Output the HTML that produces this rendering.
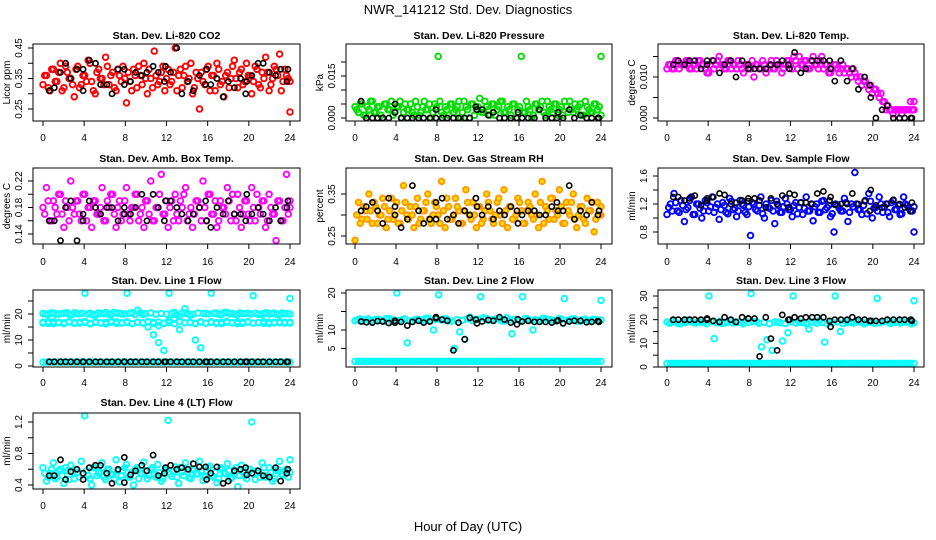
<!DOCTYPE html>
<html><head><meta charset="utf-8">
<style>
html,body{margin:0;padding:0;background:#fff;}
svg{display:block;font-family:"Liberation Sans",sans-serif;}
</style></head>
<body>
<svg id="chart" width="936" height="540" viewBox="0 0 936 540" xmlns="http://www.w3.org/2000/svg">
<text x="468" y="14" text-anchor="middle" font-size="13">NWR_141212 Std. Dev. Diagnostics</text>
<text x="468" y="531" text-anchor="middle" font-size="13">Hour of Day (UTC)</text>
</svg>
<script>
const xTicks = [0,4,8,12,16,20,24];
const blackHours = [0.6,1.1,1.7,2.2,2.7,3.3,3.9,3.9,4.5,5.1,5.6,6.2,6.7,7.3,7.9,7.9,8.5,9.0,9.6,10.1,10.7,11.2,11.8,11.9,12.4,13.0,13.5,14.1,14.6,15.2,15.8,15.9,16.3,16.9,17.5,18.0,18.6,19.2,19.7,19.8,20.3,20.9,21.4,22.0,22.6,23.1,23.7,23.8];

const co2Red = [0.33,0.36,0.31,0.38,0.34,0.40,0.32,0.37,0.35,0.29,0.39,0.33,0.36,0.41,0.34,0.30,0.38,0.35,0.42,0.33,0.37,0.31,0.36,0.39,0.27,0.34,0.38,0.32,0.36,0.40,0.30,0.35,0.44,0.33,0.37,0.31,0.38,0.34,0.45,0.36,0.32,0.39,0.35,0.30,0.37,0.25,0.34,0.38,0.31,0.36,0.40,0.33,0.29,0.37,0.35,0.41,0.32,0.38,0.34,0.36,0.30,0.39,0.33,0.37,0.42,0.31,0.35,0.38,0.43,0.34,0.36,0.24];
const co2Red2 = [0.36,0.32,0.38,0.34,0.37,0.31,0.39,0.35,0.33,0.38,0.32,0.36,0.34,0.40,0.31,0.37,0.35,0.33,0.39,0.36,0.32,0.38,0.34,0.35,0.37,0.31,0.36,0.39,0.33,0.35,0.38,0.32,0.36,0.34,0.39,0.35,0.33,0.37,0.31,0.38,0.36,0.34,0.40,0.32,0.35,0.37,0.33,0.39,0.36,0.31,0.38,0.34,0.36,0.32,0.39,0.35,0.37,0.33,0.40,0.36,0.34,0.38,0.32,0.35,0.37,0.33,0.39,0.36,0.31,0.38,0.35,0.34];
const co2Black = [0.31,0.32,0.37,0.40,0.35,0.38,0.31,0.38,0.41,0.40,0.33,0.33,0.30,0.38,0.33,0.38,0.34,0.37,0.36,0.37,0.39,0.37,0.34,0.39,0.37,0.45,0.30,0.34,0.31,0.36,0.33,0.38,0.33,0.35,0.29,0.34,0.32,0.35,0.30,0.34,0.36,0.40,0.40,0.37,0.36,0.38,0.34,0.38];
const pressGreen = [0.004,0.002,0.005,0.001,0.003,0.006,0.002,0.004,0.000,0.005,0.003,0.001,0.004,0.006,0.002,0.003,0.005,0.001,0.004,0.002,0.006,0.003,0.000,0.005,0.022,0.002,0.004,0.001,0.005,0.003,0.006,0.002,0.004,0.000,0.005,0.003,0.007,0.002,0.004,0.001,0.005,0.003,0.006,0.002,0.004,0.001,0.005,0.003,0.022,0.002,0.004,0.000,0.005,0.003,0.006,0.001,0.004,0.002,0.005,0.003,0.001,0.004,0.006,0.002,0.003,0.005,0.001,0.004,0.002,0.005,0.003,0.022];
const pressGreen2 = [0.003,0.005,0.001,0.004,0.006,0.002,0.004,0.001,0.005,0.003,0.006,0.002,0.004,0.000,0.005,0.003,0.002,0.006,0.001,0.004,0.003,0.005,0.002,0.004,0.006,0.001,0.003,0.005,0.002,0.004,0.000,0.006,0.003,0.005,0.001,0.004,0.002,0.006,0.003,0.005,0.001,0.004,0.006,0.002,0.003,0.005,0.000,0.004,0.002,0.006,0.003,0.001,0.005,0.004,0.002,0.006,0.003,0.005,0.001,0.004,0.006,0.002,0.003,0.005,0.004,0.001,0.006,0.003,0.002,0.005,0.004,0.001];
const pressBlack = [0.006,0.0,0.0,0.0,0.0,0.0,0.002,0.005,0.0,0.0,0.0,0.0,0.0,0.0,0.0,0.003,0.0,0.0,0.0,0.0,0.0,0.0,0.004,0.003,0.003,0.001,0.002,0.0,0.0,0.0,0.0,0.002,0.0,0.0,0.0,0.003,0.0,0.0,0.0,0.002,0.0,0.003,0.0,0.001,0.0,0.0,0.0,0.0];
const tempMag = [0.012,0.013,0.012,0.014,0.013,0.013,0.014,0.012,0.013,0.014,0.013,0.012,0.011,0.014,0.013,0.015,0.013,0.012,0.014,0.013,0.012,0.013,0.011,0.013,0.012,0.010,0.013,0.012,0.013,0.012,0.014,0.012,0.013,0.011,0.013,0.014,0.012,0.014,0.015,0.013,0.014,0.012,0.015,0.013,0.014,0.012,0.013,0.011,0.013,0.012,0.012,0.011,0.012,0.010,0.011,0.009,0.008,0.009,0.007,0.006,0.007,0.005,0.004,0.002,0.002,0.001,0.002,0.002,0.002,0.002,0.004,0.004];
const tempMag2 = [0.013,0.012,0.014,0.012,0.013,0.014,0.012,0.013,0.012,0.014,0.013,0.011,0.013,0.012,0.014,0.013,0.012,0.014,0.012,0.013,0.014,0.012,0.013,0.012,0.014,0.013,0.012,0.014,0.011,0.013,0.012,0.014,0.013,0.012,0.014,0.013,0.015,0.012,0.013,0.014,0.012,0.014,0.013,0.012,0.015,0.013,0.011,0.012,0.013,0.011,0.013,0.012,0.011,0.012,0.010,0.010,0.009,0.008,0.008,0.007,0.006,0.006,0.004,0.003,0.002,0.002,0.002,0.001,0.002,0.002,0.002,0.002];
const tempBlack = [0.013,0.014,0.013,0.014,0.014,0.012,0.014,0.013,0.014,0.011,0.013,0.014,0.010,0.014,0.012,0.013,0.012,0.012,0.012,0.013,0.013,0.014,0.013,0.012,0.016,0.011,0.012,0.014,0.014,0.014,0.014,0.012,0.009,0.014,0.009,0.012,0.007,0.010,0.008,0.005,0.000,0.002,0.003,0.000,0.000,0.000,0.000,0.000];
const ambMag = [0.18,0.21,0.16,0.19,0.17,0.20,0.15,0.18,0.22,0.17,0.19,0.16,0.20,0.18,0.15,0.19,0.17,0.21,0.16,0.18,0.20,0.15,0.19,0.17,0.21,0.16,0.18,0.20,0.17,0.15,0.19,0.22,0.16,0.18,0.23,0.17,0.15,0.19,0.20,0.16,0.18,0.21,0.17,0.15,0.19,0.18,0.22,0.16,0.20,0.17,0.15,0.19,0.18,0.21,0.16,0.17,0.20,0.15,0.19,0.17,0.21,0.16,0.18,0.19,0.15,0.20,0.17,0.13,0.19,0.16,0.23,0.18];
const ambMag2 = [0.17,0.19,0.16,0.18,0.20,0.17,0.19,0.16,0.18,0.19,0.17,0.20,0.16,0.18,0.19,0.17,0.18,0.16,0.19,0.20,0.17,0.18,0.16,0.19,0.17,0.18,0.20,0.16,0.18,0.19,0.17,0.16,0.18,0.20,0.17,0.19,0.18,0.16,0.17,0.19,0.20,0.16,0.18,0.17,0.19,0.16,0.18,0.20,0.17,0.19,0.16,0.18,0.17,0.19,0.20,0.16,0.18,0.17,0.19,0.16,0.18,0.20,0.17,0.19,0.16,0.18,0.17,0.19,0.16,0.18,0.17,0.19];
const ambBlack = [0.16,0.16,0.13,0.18,0.19,0.13,0.16,0.17,0.19,0.18,0.17,0.18,0.18,0.16,0.18,0.17,0.17,0.18,0.20,0.16,0.20,0.18,0.16,0.19,0.19,0.18,0.17,0.16,0.17,0.18,0.19,0.16,0.15,0.18,0.17,0.19,0.17,0.17,0.16,0.20,0.17,0.18,0.17,0.16,0.18,0.16,0.18,0.19];
const rhOrange = [0.24,0.33,0.29,0.31,0.35,0.28,0.32,0.30,0.34,0.27,0.31,0.29,0.33,0.28,0.37,0.30,0.32,0.27,0.34,0.29,0.31,0.35,0.28,0.33,0.30,0.38,0.27,0.32,0.29,0.34,0.31,0.28,0.36,0.30,0.33,0.27,0.32,0.29,0.35,0.31,0.28,0.33,0.30,0.36,0.27,0.32,0.29,0.34,0.31,0.28,0.33,0.30,0.35,0.27,0.38,0.32,0.29,0.34,0.31,0.36,0.28,0.33,0.30,0.35,0.27,0.32,0.29,0.34,0.31,0.26,0.33,0.30];
const rhOrange2 = [0.30,0.28,0.32,0.29,0.31,0.33,0.28,0.30,0.32,0.29,0.34,0.30,0.28,0.31,0.33,0.29,0.30,0.32,0.28,0.31,0.33,0.29,0.30,0.32,0.28,0.31,0.34,0.29,0.30,0.32,0.28,0.31,0.33,0.29,0.30,0.32,0.28,0.31,0.33,0.29,0.30,0.34,0.28,0.31,0.32,0.29,0.30,0.33,0.28,0.31,0.32,0.29,0.30,0.33,0.28,0.31,0.34,0.29,0.30,0.32,0.28,0.31,0.33,0.29,0.30,0.32,0.28,0.31,0.33,0.29,0.30,0.32];
const rhBlack = [0.31,0.32,0.33,0.31,0.28,0.34,0.30,0.32,0.27,0.29,0.37,0.31,0.28,0.29,0.29,0.33,0.34,0.29,0.30,0.28,0.31,0.30,0.34,0.32,0.30,0.32,0.29,0.31,0.30,0.32,0.31,0.28,0.30,0.31,0.31,0.30,0.30,0.32,0.33,0.31,0.31,0.37,0.29,0.31,0.30,0.33,0.30,0.31];
const sampleBlue = [1.05,1.20,1.35,1.10,1.25,0.95,1.15,1.30,1.05,1.20,1.00,1.25,1.10,1.30,1.15,0.98,1.22,1.08,1.28,1.12,1.02,1.25,1.18,1.05,0.75,1.20,1.10,1.30,1.00,1.15,1.25,0.92,1.18,1.08,1.28,1.12,1.02,1.22,1.15,1.05,1.30,1.10,0.96,1.20,1.08,1.25,1.15,1.02,0.80,1.18,1.10,1.28,0.95,1.20,1.65,1.12,1.05,1.25,1.35,1.00,1.15,1.30,1.08,1.20,1.02,1.25,1.12,1.05,1.30,1.18,1.10,0.80];
const sampleBlue2 = [1.15,1.10,1.22,1.08,1.18,1.12,1.25,1.05,1.20,1.14,1.10,1.22,1.16,1.08,1.20,1.12,1.18,1.06,1.24,1.14,1.10,1.20,1.08,1.16,1.22,1.12,1.18,1.06,1.20,1.14,1.10,1.24,1.08,1.16,1.20,1.12,1.18,1.06,1.22,1.14,1.10,1.20,1.16,1.08,1.24,1.12,1.18,1.06,1.20,1.14,1.10,1.22,1.08,1.16,1.20,1.12,1.18,1.06,1.24,1.14,1.10,1.20,1.16,1.08,1.22,1.12,1.18,1.06,1.20,1.14,1.10,1.16];
const sampleBlack = [1.30,1.30,1.25,1.28,1.32,1.18,1.25,1.28,1.30,1.35,1.33,1.20,1.22,1.25,1.24,1.28,1.28,1.25,1.15,1.28,1.20,1.32,1.15,1.35,1.33,1.22,1.22,1.20,1.35,1.38,1.25,1.30,1.19,1.20,1.20,1.35,1.20,1.24,1.10,1.40,1.18,1.15,1.20,1.26,1.20,1.15,1.10,1.22];
const line1High = [20.2,19.8,20.4,20.0,20.3,19.9,20.5,20.1,28,20.3,19.7,20.2,20.6,19.9,20.4,20.0,28,20.5,21.5,19.8,15,12,9,6,28,20.6,14,20.3,19.5,10,7,20.2,28,20.4,19.9,20.6,20.2,19.8,20.1,20.3,27,19.9,20.2,20.0,20.4,19.8,20.1,26];
const line1High2 = [20.0,20.4,19.9,20.2,20.5,19.8,20.1,20.3,20.0,19.7,20.4,20.1,19.9,20.6,20.2,20.0,20.3,19.8,20.5,20.1,20.4,19.9,20.2,20.0,20.3,19.7,20.5,20.1,19.9,20.4,20.2,20.0,20.3,19.8,20.6,20.1,19.9,20.4,20.2,20.0,20.3,19.8,20.5,20.1,19.9,20.4,20.2,20.0];
const line1Mid = [16.5,17.0,16.3,16.8,16.6,17.1,16.4,16.9,16.7,16.2,17.0,16.5,16.8,17.2,16.4,16.6,17.0,16.3,16.9,16.5,17.1,16.8,15.5,16.4,17.5,18,19,22,16.7,16.3,17.0,16.5,16.8,16.4,16.9,17.1,16.6,16.3,16.8,17.0,16.5,16.7,16.4,16.9,16.6,17.0,16.5,16.8];
const line1Mid2 = [16.8,16.4,17.0,16.6,16.3,16.9,16.7,16.5,17.1,16.4,16.8,16.6,16.2,16.9,17.0,16.5,16.7,16.3,16.8,16.6,17.0,16.4,16.9,16.5,16.7,16.3,17.1,16.6,16.8,16.4,16.9,16.5,17.0,16.7,16.3,16.8,16.6,17.0,16.4,16.9,16.5,16.7,17.1,16.3,16.8,16.6,16.9,16.5];
const line1Low = [1.5,1.5,1.5,1.5,1.5,1.5,1.5,1.5,1.5,1.5,1.5,1.5,1.5,1.5,1.5,1.5,1.5,1.5,1.5,1.5,1.5,1.5,1.5,1.5,1.5,1.5,1.5,1.5,1.5,1.5,1.5,1.5,1.5,1.5,1.5,1.5,1.5,1.5,1.5,1.5,1.5,1.5,1.5,1.5,1.5,1.5,1.5,1.5,1.5,1.5,1.5,1.5,1.5,1.5,1.5,1.5,1.5,1.5,1.5,1.5,1.5,1.5,1.5,1.5,1.5,1.5,1.5,1.5,1.5,1.5,1.5,1.5];
const line1Black = [1.6,1.6,1.6,1.6,1.6,1.6,1.6,1.6,1.6,1.6,1.6,1.6,1.6,1.6,1.6,1.6,1.6,1.6,1.6,1.6,1.6,1.6,1.6,1.6,1.6,1.6,1.6,1.6,1.6,1.6,1.6,1.6,1.6,1.6,1.6,1.6,1.6,1.6,1.6,1.6,1.6,1.6,1.6,1.6,1.6,1.6,1.6,1.6];
const line2High = [12.5,13,12.8,12.3,12.9,12.6,13.1,12.4,20,12.8,6.5,12.3,12.9,12.6,13.2,10,19.5,13,12.5,5,9.5,7.5,13.5,12.8,19,13.2,12.7,13,12.5,13.3,9,12.8,19,13,10,12.6,13.2,12.8,12.5,13.1,18.5,12.7,13,12.4,12.9,12.6,12.8,18];
const line2High2 = [12.8,12.4,13.0,12.6,12.9,12.3,13.1,12.7,12.5,13.0,12.4,12.8,12.6,13.2,12.5,12.9,12.7,13.0,12.4,12.8,12.6,13.1,12.5,12.9,13.3,12.6,12.8,13.0,12.4,12.7,12.9,12.5,13.1,12.6,12.8,12.4,13.0,12.7,12.5,12.9,12.6,13.0,12.4,12.8,12.6,12.9,12.5,12.7];
const line2Low = [1.5,1.5,1.5,1.5,1.5,1.5,1.5,1.5,1.5,1.5,1.5,1.5,1.5,1.5,1.5,1.5,1.5,1.5,1.5,1.5,1.5,1.5,1.5,1.5,1.5,1.5,1.5,1.5,1.5,1.5,1.5,1.5,1.5,1.5,1.5,1.5,1.5,1.5,1.5,1.5,1.5,1.5,1.5,1.5,1.5,1.5,1.5,1.5,1.5,1.5,1.5,1.5,1.5,1.5,1.5,1.5,1.5,1.5,1.5,1.5,1.5,1.5,1.5,1.5,1.5,1.5,1.5,1.5,1.5,1.5,1.5,1.5];
const line2Black = [12.3,12.1,12.0,12.4,12.3,11.9,12.0,12.5,12.2,11.2,12.2,12.5,12.0,12.3,13.5,13.2,12.8,12.5,4.5,12.0,7.5,13.3,12.8,11.8,12.3,12.7,12.5,13.5,12.8,12.0,11.5,12.9,12.3,12.5,12.2,12.2,12.2,12.0,12.4,12.6,11.8,12.3,12.5,12.5,12.1,12.2,12.4,12.2];
const line3High = [19,19.5,18.5,19.2,19.8,18.8,19.4,19,30,12,19.3,18.7,19.6,19.1,18.9,19.5,31,19.2,8.5,11.5,7,19,11,14.5,30,19.4,18.8,16,19.2,19.7,10.5,19,30,15,19.3,18.9,19.5,19.1,18.8,19.4,29,19.2,19.6,18.9,19.3,19.0,19.4,28];
const line3High2 = [18.5,19.0,18.2,18.8,19.3,18.6,18.9,18.3,19.1,18.7,18.4,19.0,18.6,18.9,18.2,18.8,19.2,18.5,18.9,18.3,19.0,18.7,18.4,19.1,18.6,18.8,18.3,19.0,18.5,18.9,18.2,18.7,19.1,18.4,18.8,18.6,19.0,18.3,18.9,18.5,18.7,19.2,18.4,18.8,18.6,19.0,18.3,18.7];
const line3Low = [1.5,1.5,1.5,1.5,1.5,1.5,1.5,1.5,1.5,1.5,1.5,1.5,1.5,1.5,1.5,1.5,1.5,1.5,1.5,1.5,1.5,1.5,1.5,1.5,1.5,1.5,1.5,1.5,1.5,1.5,1.5,1.5,1.5,1.5,1.5,1.5,1.5,1.5,1.5,1.5,1.5,1.5,1.5,1.5,1.5,1.5,1.5,1.5,1.5,1.5,1.5,1.5,1.5,1.5,1.5,1.5,1.5,1.5,1.5,1.5,1.5,1.5,1.5,1.5,1.5,1.5,1.5,1.5,1.5,1.5,1.5,1.5];
const line3Black = [20,20,20,20,20,20,20.5,20,19.5,19,21,20,19,21,20.5,20.5,20.5,4.5,21,12,7,22,20,20,21,20.5,21,21,21,21,19.5,17,20,20,20,21,20,20,19.5,19.5,19.5,19.5,20,20,20,20,20,19.5];
const line4Cyan = [0.62,0.45,0.55,0.68,0.50,0.60,0.42,0.58,0.65,0.48,0.56,0.70,1.28,0.52,0.40,0.62,0.55,0.68,0.47,0.60,0.53,0.72,0.44,0.58,0.66,0.50,0.40,0.62,0.55,0.69,0.48,0.60,0.53,0.66,0.45,0.58,1.22,0.51,0.63,0.42,0.57,0.68,0.49,0.60,0.54,0.70,0.46,0.58,0.64,0.50,0.43,0.62,0.55,0.67,0.48,0.59,0.38,0.65,0.52,0.60,1.20,0.47,0.56,0.68,0.50,0.62,0.45,0.58,0.70,0.53,0.60,0.72];
const line4Cyan2 = [0.55,0.50,0.60,0.48,0.58,0.52,0.62,0.47,0.56,0.60,0.50,0.54,0.58,0.48,0.62,0.52,0.56,0.50,0.60,0.54,0.48,0.58,0.52,0.62,0.50,0.56,0.60,0.48,0.54,0.58,0.52,0.62,0.50,0.56,0.48,0.60,0.54,0.58,0.50,0.62,0.52,0.56,0.48,0.60,0.54,0.58,0.50,0.62,0.52,0.56,0.48,0.60,0.54,0.58,0.50,0.62,0.52,0.56,0.48,0.60,0.54,0.58,0.50,0.62,0.52,0.56,0.48,0.60,0.54,0.58,0.50,0.56];
const line4Black = [0.52,0.52,0.72,0.47,0.57,0.60,0.55,0.47,0.62,0.65,0.65,0.55,0.42,0.60,0.75,0.43,0.53,0.58,0.65,0.58,0.78,0.52,0.55,0.62,0.65,0.60,0.62,0.60,0.67,0.63,0.63,0.47,0.55,0.63,0.42,0.45,0.58,0.60,0.62,0.53,0.55,0.58,0.52,0.50,0.62,0.45,0.55,0.60];

const co2Ticks=[0.25,0.30,0.35,0.40,0.45], co2Labels=["0.25","","0.35","","0.45"];
const pressTicks=[0,0.005,0.010,0.015,0.020], pressLabels=["0.000","","","0.015",""];
const tempTicks=[0,0.005,0.010,0.015], tempLabels=["0.000","","0.010",""];
const ambTicks=[0.14,0.16,0.18,0.20,0.22], ambLabels=["0.14","","0.18","","0.22"];
const rhTicks=[0.25,0.30,0.35], rhLabels=["0.25","","0.35"];
const sampleTicks=[0.8,1.0,1.2,1.4,1.6], sampleLabels=["0.8","","1.2","","1.6"];
const l1Ticks=[0,5,10,15,20,25], l1Labels=["0","","10","","20",""];
const l2Ticks=[5,10,15,20], l2Labels=["5","10","","20"];
const l3Ticks=[0,5,10,15,20,25,30], l3Labels=["0","","10","","20","","30"];
const l4Ticks=[0.4,0.6,0.8,1.0,1.2], l4Labels=["0.4","","0.8","","1.2"];

const NS="http://www.w3.org/2000/svg";
const svg=document.getElementById('chart');
const cols=[{x0:43,x1:290,bl:33,br:300},{x0:355,x1:601,bl:346,br:612},{x0:667,x1:914,bl:658,br:924}];
const rows=[{bt:44,bb:121,ty:39,lab:141},{bt:168,bb:244,ty:162,lab:265},{bt:290,bb:367,ty:284,lab:386},{bt:413,bb:489,ty:406,lab:509}];
const panels=[
 {name:'co2',title:'Stan. Dev. Li-820 CO2',ylab:'Licor ppm',c:0,r:0,map:[0.45,48,0.25,109],ticks:co2Ticks,labels:co2Labels,series:[[co2Red,null,'#ff0000','none'],[co2Red2,null,'#ff0000','none'],[co2Black,blackHours,'#000','none']]},
 {name:'pressure',title:'Stan. Dev. Li-820 Pressure',ylab:'kPa',c:1,r:0,map:[0.015,76,0,118],ticks:pressTicks,labels:pressLabels,series:[[pressGreen,null,'#00dd00','none'],[pressGreen2,null,'#00dd00','none'],[pressBlack,blackHours,'#000','none']]},
 {name:'li820-temp',title:'Stan. Dev. Li-820 Temp.',ylab:'degrees C',c:2,r:0,map:[0.010,77,0,118],ticks:tempTicks,labels:tempLabels,series:[[tempMag,null,'#ff00ff','none'],[tempMag2,null,'#ff00ff','none'],[tempBlack,blackHours,'#000','none']]},
 {name:'amb-box-temp',title:'Stan. Dev. Amb. Box Temp.',ylab:'degrees C',c:0,r:1,map:[0.22,181,0.14,234],ticks:ambTicks,labels:ambLabels,series:[[ambMag,null,'#ff00ff','none'],[ambMag2,null,'#ff00ff','none'],[ambBlack,blackHours,'#000','none']]},
 {name:'gas-stream-rh',title:'Stan. Dev. Gas Stream RH',ylab:'percent',c:1,r:1,map:[0.35,194,0.25,236],ticks:rhTicks,labels:rhLabels,series:[[rhOrange,null,'#ff9900','#ffdd00'],[rhOrange2,null,'#ff9900','#ffdd00'],[rhBlack,blackHours,'#000','none']]},
 {name:'sample-flow',title:'Stan. Dev. Sample Flow',ylab:'ml/min',c:2,r:1,map:[1.6,176,0.8,232],ticks:sampleTicks,labels:sampleLabels,series:[[sampleBlue,null,'#0000ff','none'],[sampleBlue2,null,'#0000ff','none'],[sampleBlack,blackHours,'#000','none']]},
 {name:'line1-flow',title:'Stan. Dev. Line 1 Flow',ylab:'ml/min',c:0,r:2,map:[20,314,0,366],ticks:l1Ticks,labels:l1Labels,series:[[line1High,null,'#00ffff','none'],[line1High2,null,'#00ffff','none'],[line1Mid,null,'#00ffff','none'],[line1Mid2,null,'#00ffff','none'],[line1Low,null,'#00ffff','none'],[line1Black,blackHours,'#000','none']]},
 {name:'line2-flow',title:'Stan. Dev. Line 2 Flow',ylab:'ml/min',c:1,r:2,map:[20,293,10,330],ticks:l2Ticks,labels:l2Labels,series:[[line2High,null,'#00ffff','none'],[line2High2,null,'#00ffff','none'],[line2Low,null,'#00ffff','none'],[line2Black,blackHours,'#000','none']]},
 {name:'line3-flow',title:'Stan. Dev. Line 3 Flow',ylab:'ml/min',c:2,r:2,map:[30,296,0,367],ticks:l3Ticks,labels:l3Labels,series:[[line3High,null,'#00ffff','none'],[line3High2,null,'#00ffff','none'],[line3Low,null,'#00ffff','none'],[line3Black,blackHours,'#000','none']]},
 {name:'line4-flow',title:'Stan. Dev. Line 4 (LT) Flow',ylab:'ml/min',c:0,r:3,map:[1.2,422,0.4,485],ticks:l4Ticks,labels:l4Labels,series:[[line4Cyan,null,'#00ffff','none'],[line4Cyan2,null,'#00ffff','none'],[line4Black,blackHours,'#000','none']]}
];
function mk(tag,attrs,parent){const e=document.createElementNS(NS,tag);for(const k in attrs)e.setAttribute(k,attrs[k]);(parent||svg).appendChild(e);return e;}
panels.forEach(p=>{
 const C=cols[p.c],R=rows[p.r];
 const g=mk('g',{});
 
 
 const xs=h=>C.x0+(C.x1-C.x0)*h/24;
 const ys=v=>p.map[1]+(v-p.map[0])*(p.map[3]-p.map[1])/(p.map[2]-p.map[0]);
 const clip='clip-'+p.name;
 const cp=mk('clipPath',{id:clip},g);
 mk('rect',{x:C.bl,y:R.bt,width:C.br-C.bl,height:R.bb-R.bt},cp);
 const t=mk('text',{x:(C.bl+C.br)/2,y:R.ty,'text-anchor':'middle','font-size':'10.5','font-weight':'bold'},g);
 t.textContent=p.title;
 
 
 const yl=mk('text',{transform:`translate(${C.bl-23},${(R.bt+R.bb)/2}) rotate(-90)`,'text-anchor':'middle','font-size':'10'},g);
 yl.textContent=p.ylab;
 
 
 const pts=mk('g',{'clip-path':`url(#${clip})`},g);
 
 
 p.series.forEach(s=>{
  const vals=s[0],hrs=s[1];
  const black=s[2]==='#000';
  vals.forEach((v,i)=>{
   const h=hrs?hrs[i]:(i+(vals===p.series[1][0]?0.5:0))*24/(vals.length-1);
   const c=mk('circle',{cx:xs(Math.min(h,24)).toFixed(1),cy:ys(v).toFixed(1),r:black?2.6:2.8,fill:s[3],stroke:s[2],'stroke-width':black?1.6:1.9},pts);
   
   
  });
 });
 const box=mk('rect',{x:C.bl,y:R.bt,width:C.br-C.bl,height:R.bb-R.bt,fill:'none',stroke:'#000','stroke-width':1},g);
 
 
 const xa=mk('g',{},g);
 
 
 mk('line',{x1:xs(0),x2:xs(24),y1:R.bb,y2:R.bb,stroke:'#000'},xa);
 xTicks.forEach(h=>{
  mk('line',{x1:xs(h),x2:xs(h),y1:R.bb,y2:R.bb+5,stroke:'#000'},xa);
  const tl=mk('text',{x:xs(h),y:R.lab,'text-anchor':'middle','font-size':'10'},xa);
  tl.textContent=h;
  
  
 });
 const ya=mk('g',{},g);
 
 
 p.ticks.forEach((v,i)=>{
  const y=ys(v);
  mk('line',{x1:C.bl-5,x2:C.bl,y1:y,y2:y,stroke:'#000'},ya);
  if(p.labels[i]){
   const tl=mk('text',{transform:`translate(${C.bl-11},${y}) rotate(-90)`,'text-anchor':'middle','font-size':'10'},ya);
   tl.textContent=p.labels[i];
   
   
  }
 });
});
</script>
</body></html>
